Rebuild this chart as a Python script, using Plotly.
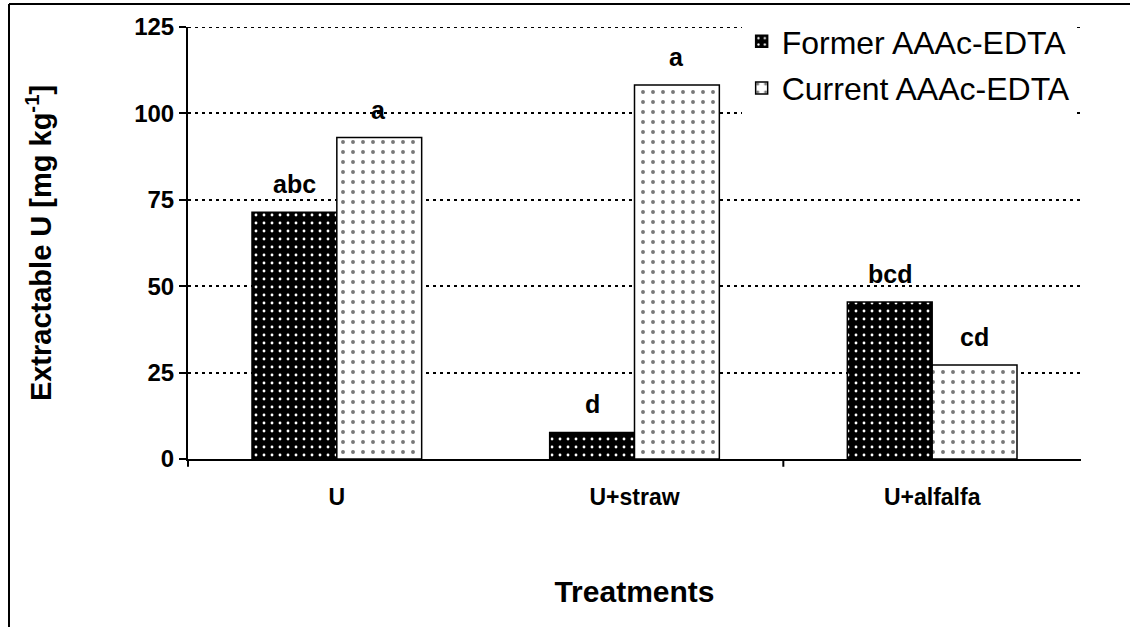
import plotly.graph_objects as go

categories = ["U", "U+straw", "U+alfalfa"]
former = [71.4, 7.7, 45.4]
current = [93.0, 108.2, 27.2]
former_letters = ["abc", "d", "bcd"]
current_letters = ["a", "a", "cd"]
y_ticks = [0, 25, 50, 75, 100, 125]

FONT = "Liberation Sans, Arial, sans-serif"

fig = go.Figure()
fig.add_trace(go.Bar(
    x=categories, y=former, name="Former AAAc-EDTA", legendgroup="f",
    marker=dict(color="black", line=dict(color="black", width=1.5),
                pattern=dict(shape=".", fgcolor="white", bgcolor="black",
                             size=8, solidity=0.1, fillmode="replace")),
))
fig.add_trace(go.Bar(
    x=categories, y=current, name="Current AAAc-EDTA", legendgroup="c",
    marker=dict(color="white", line=dict(color="black", width=1.5),
                pattern=dict(shape=".", fgcolor="#777777", bgcolor="white",
                             size=10, solidity=0.12, fillmode="replace")),
))

for cat, v, t in zip(categories, former, former_letters):
    fig.add_annotation(x=cat, y=v, text=t, showarrow=False,
                       xshift=-42, yshift=12, yanchor="bottom",
                       font=dict(family=FONT, size=25, color="black", weight="bold"))
for cat, v, t in zip(categories, current, current_letters):
    fig.add_annotation(x=cat, y=v, text=t, showarrow=False,
                       xshift=42, yshift=12, yanchor="bottom",
                       font=dict(family=FONT, size=25, color="black", weight="bold"))

# top gridline at 125
fig.add_shape(type="line", xref="paper", yref="y", x0=0, x1=1, y0=125, y1=125,
              layer="below", line=dict(color="black", width=2, dash="3px,4px"))
# category separator tick between U+straw and U+alfalfa
fig.add_shape(type="line", xref="x", yref="paper", x0=1.5, x1=1.5,
              y0=0, y1=-0.018, line=dict(color="black", width=2))
# y axis extension below zero
fig.add_shape(type="line", xref="paper", yref="paper", x0=0, x1=0,
              y0=0, y1=-0.018, line=dict(color="black", width=2))
# outer frame (left and top)
fig.add_shape(type="line", xref="paper", yref="paper",
              x0=-179/893, x1=-179/893, y0=1 + 23/432, y1=-168/432,
              line=dict(color="black", width=2))
fig.add_shape(type="line", xref="paper", yref="paper",
              x0=-179/893, x1=1 + 49/893, y0=1 + 23/432, y1=1 + 23/432,
              line=dict(color="black", width=2))

fig.update_layout(
    width=1130, height=627,
    margin=dict(l=188, r=49, t=27, b=168),
    paper_bgcolor="white", plot_bgcolor="white",
    barmode="group", bargap=0.43, bargroupgap=0,
    font=dict(family=FONT, color="black"),
    showlegend=True,
    legend=dict(x=0.62, y=1.03, xanchor="left", yanchor="top",
                bgcolor="white", font=dict(family=FONT, size=32, color="black"),
                tracegroupgap=2, itemwidth=30),
    xaxis=dict(showline=True, linecolor="black", linewidth=2, ticks="",
               showgrid=False, zeroline=False, ticklabelstandoff=16,
               tickfont=dict(family=FONT, size=23, color="black", weight="bold"),
               title=dict(text="Treatments", standoff=72,
                          font=dict(family=FONT, size=30, color="black", weight="bold"))),
    yaxis=dict(range=[0, 125], tickvals=y_ticks, showline=True,
               linecolor="black", linewidth=2, ticks="outside", ticklen=7,
               tickwidth=2, tickcolor="black",
               showgrid=True, gridcolor="black", gridwidth=2, griddash="3px,4px",
               zeroline=False,
               tickfont=dict(family=FONT, size=24, color="black", weight="bold"),
               title=dict(text="Extractable U [mg kg<sup>-1</sup>]", standoff=74,
                          font=dict(family=FONT, size=29, color="black", weight="bold"))),
)

fig.write_html("out.html")
